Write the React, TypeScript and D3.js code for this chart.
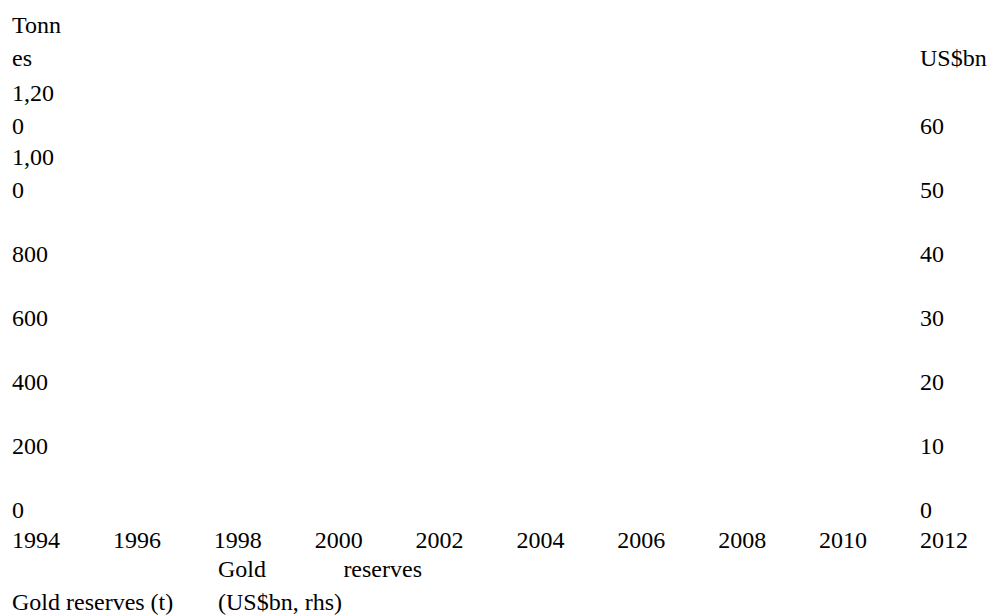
import React, { useMemo } from "react";
import * as d3 from "d3";

// ---- data ----
const years = [1994, 1996, 1998, 2000, 2002, 2004, 2006, 2008, 2010, 2012];
const tonnesTicks = [0, 200, 400, 600, 800, 1000, 1200];
const usdTicks = [0, 10, 20, 30, 40, 50, 60];
const leftTitle = "Tonnes";
const rightTitle = "US$bn";
const legendLabels = ["Gold reserves (t)", "Gold reserves (US$bn, rhs)"];

// ---- layout ----
const W = 993;
const H = 616;
const FONT_SIZE = 24;
const LINE = 33;
const FONT_FAMILY = "'Liberation Serif', 'Times New Roman', Times, serif";
const LEFT_X = 12;
const RIGHT_X = 920;
const LEFT_WRAP = 52;
const TITLE_BASE = 66;
const PLOT_BOTTOM = 518;
const PLOT_TOP = 134;
const YEAR_BASE = 548;
const LEGEND_BASE = 610;
const LEGEND2_X = 218;
const LEGEND2_W = 204;

let ctx: CanvasRenderingContext2D | null = null;
function measure(s: string): number {
  if (!ctx) {
    const c = document.createElement("canvas");
    ctx = c.getContext("2d");
  }
  if (!ctx) return s.length * FONT_SIZE * 0.5;
  ctx.font = `${FONT_SIZE}px ${FONT_FAMILY}`;
  return ctx.measureText(s).width;
}

// character-level wrap (like a narrow column breaking words)
function charWrap(s: string, maxW: number): string[] {
  const lines: string[] = [];
  let cur = "";
  for (const ch of s) {
    if (cur && measure(cur + ch) > maxW) {
      lines.push(cur);
      cur = ch;
    } else cur += ch;
  }
  if (cur) lines.push(cur);
  return lines;
}

// word wrap with justification (all lines but the last)
function justify(s: string, maxW: number): { word: string; x: number }[][] {
  const words = s.split(" ");
  const lines: string[][] = [];
  let cur: string[] = [];
  for (const w of words) {
    const test = [...cur, w].join(" ");
    if (cur.length && measure(test) > maxW) {
      lines.push(cur);
      cur = [w];
    } else cur.push(w);
  }
  if (cur.length) lines.push(cur);
  const space = measure(" ");
  return lines.map((ws, i) => {
    const last = i === lines.length - 1;
    const total = ws.reduce((a, w) => a + measure(w), 0);
    const gap = !last && ws.length > 1 ? (maxW - total) / (ws.length - 1) : space;
    let x = 0;
    return ws.map((w) => {
      const r = { word: w, x };
      x += measure(w) + gap;
      return r;
    });
  });
}

export default function App() {
  const x = useMemo(() => d3.scalePoint<number>().domain(years).range([LEFT_X, RIGHT_X]), []);
  const yL = useMemo(() => d3.scaleLinear().domain([0, 1200]).range([PLOT_BOTTOM, PLOT_TOP]), []);
  const yR = useMemo(() => d3.scaleLinear().domain([0, 60]).range([PLOT_BOTTOM, PLOT_TOP]), []);
  const fmt = d3.format(",");

  const textStyle = { fontFamily: FONT_FAMILY, fontSize: FONT_SIZE, fill: "#000" } as const;

  const leftTitleLines = charWrap(leftTitle, LEFT_WRAP);
  const legend2 = justify(legendLabels[1], LEGEND2_W);

  return (
    <svg
      width={W}
      height={H}
      viewBox={`0 0 ${W} ${H}`}
      style={{ position: "fixed", left: 0, top: 0, background: "#fff" }}
    >
      <rect width={W} height={H} fill="#fff" />
      <g style={textStyle}>
        {/* left axis title */}
        {leftTitleLines.map((l, i) => (
          <text key={"lt" + i} x={LEFT_X} y={TITLE_BASE - (leftTitleLines.length - 1 - i) * LINE}>
            {l}
          </text>
        ))}
        {/* right axis title */}
        <text x={RIGHT_X} y={TITLE_BASE}>
          {rightTitle}
        </text>
        {/* left tick labels */}
        {tonnesTicks.map((t) => {
          const lines = charWrap(fmt(t), LEFT_WRAP);
          return lines.map((l, i) => (
            <text key={"l" + t + i} x={LEFT_X} y={yL(t) - (lines.length - 1 - i) * LINE}>
              {l}
            </text>
          ));
        })}
        {/* right tick labels */}
        {usdTicks.map((t) => (
          <text key={"r" + t} x={RIGHT_X} y={yR(t)}>
            {fmt(t)}
          </text>
        ))}
        {/* x tick labels */}
        {years.map((yr) => (
          <text key={"x" + yr} x={x(yr)} y={YEAR_BASE}>
            {String(yr)}
          </text>
        ))}
        {/* legend */}
        <text x={LEFT_X} y={LEGEND_BASE}>
          {legendLabels[0]}
        </text>
        {legend2.map((ws, i) =>
          ws.map((w, j) => (
            <text
              key={"lg" + i + j}
              x={LEGEND2_X + w.x}
              y={LEGEND_BASE - (legend2.length - 1 - i) * LINE}
            >
              {w.word}
            </text>
          ))
        )}
      </g>
    </svg>
  );
}
